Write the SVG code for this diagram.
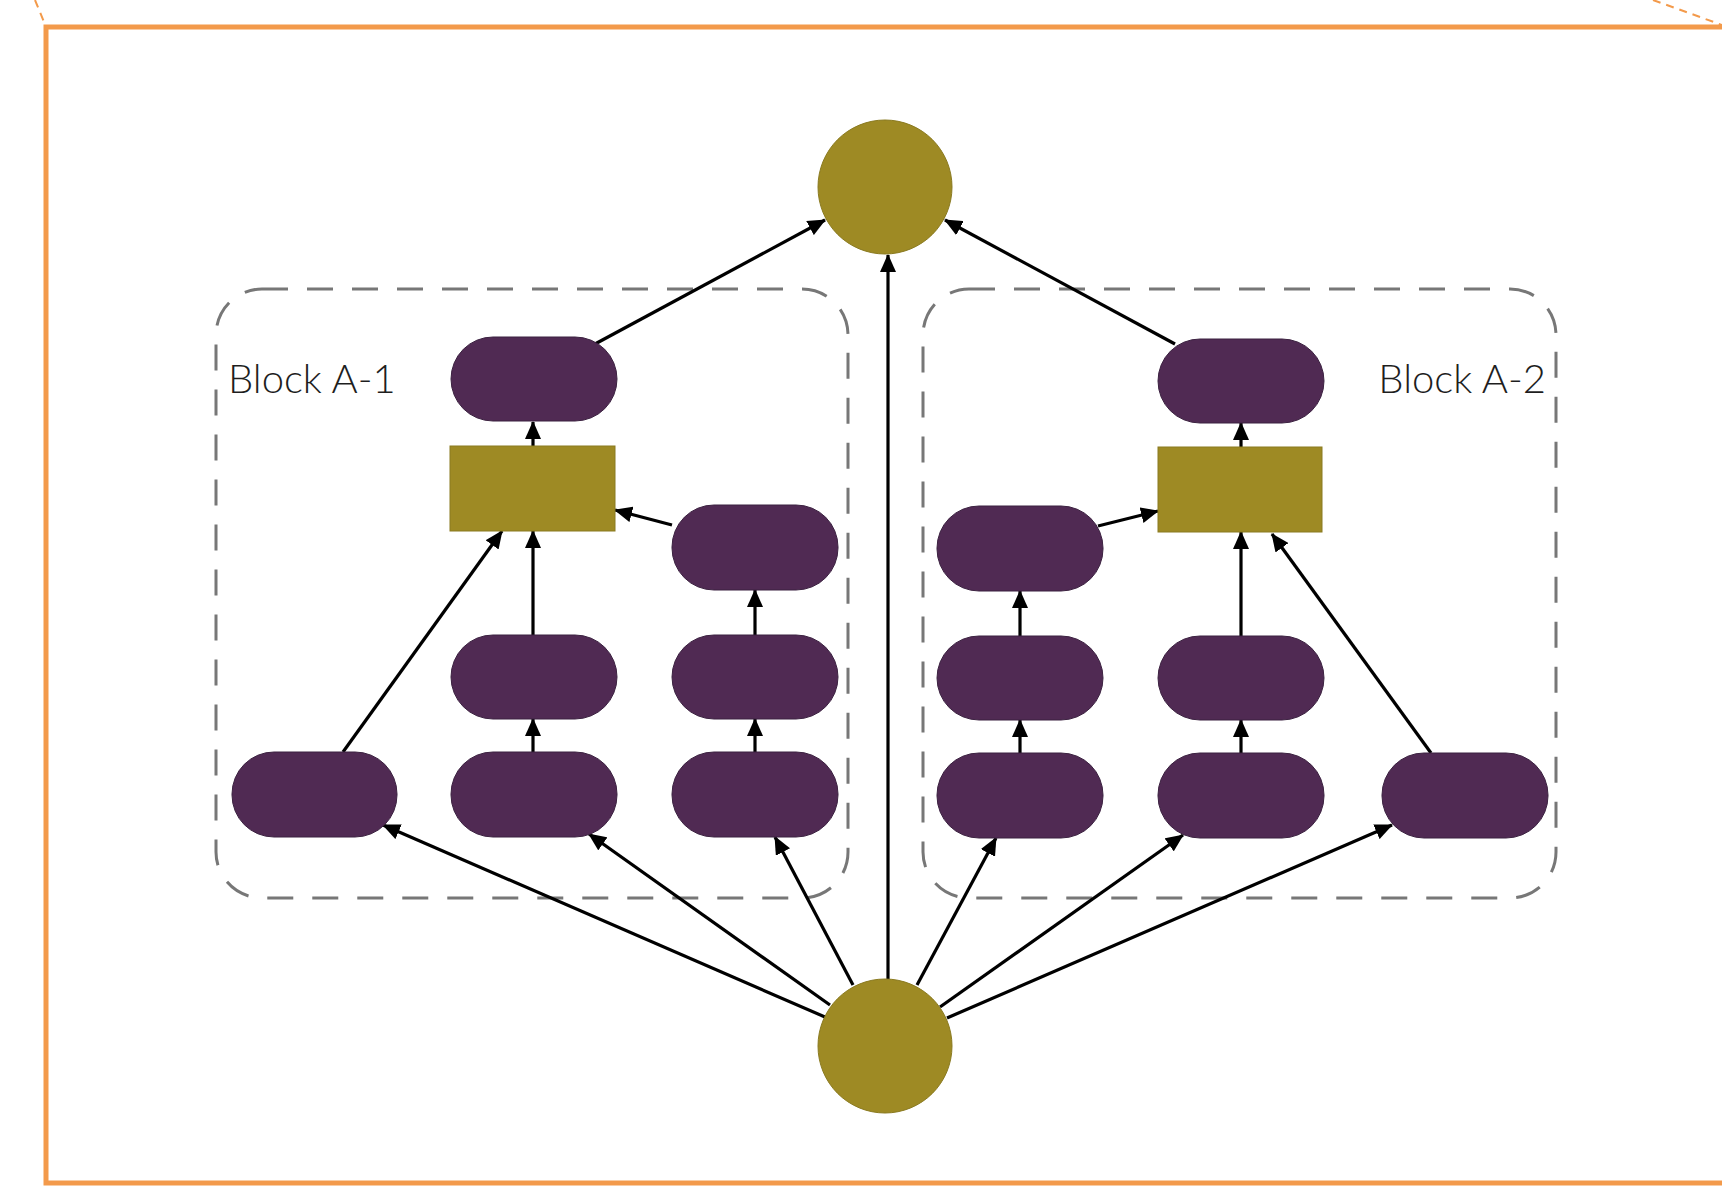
<svg xmlns="http://www.w3.org/2000/svg" width="1722" height="1186" viewBox="0 0 1722 1186">
<style>
.pill{fill:#502a53;stroke:#3b2140;stroke-width:1}
.gold{fill:#9e8a24;stroke:#8a7a20;stroke-width:1}
.grp{fill:none;stroke:#777;stroke-width:3;stroke-dasharray:26 19}
.lbl{font-family:"Lato","Open Sans","Liberation Sans",sans-serif;font-weight:300;font-size:40px;fill:#1e1e1e}
.edge{stroke:#000;stroke-width:3.2;fill:none;marker-end:url(#ah)}
.frame{fill:none;stroke:#f39a4b;stroke-width:5}
.odash{fill:none;stroke:#f39a4b;stroke-width:2;stroke-dasharray:8 6}
</style>
<defs>
<marker id="ah" markerUnits="userSpaceOnUse" markerWidth="18" markerHeight="16" refX="17" refY="8" orient="auto">
<path d="M0,0 L18,8 L0,16 z" fill="#000"/>
</marker>
</defs>
<rect width="1722" height="1186" fill="#fff"/>
<g id="frame">
<rect class="frame" x="46" y="27" width="1700" height="1156"/>
<line class="odash" x1="35" y1="0" x2="44" y2="22"/>
<line class="odash" x1="1653" y1="0" x2="1722" y2="25"/>
</g>
<g id="block-a1">
<rect class="grp" x="216" y="289" width="632" height="609" rx="46"/>
<text class="lbl" x="228" y="393">Block A-1</text>
</g>
<g id="block-a2">
<rect class="grp" x="923" y="289" width="633" height="609" rx="46"/>
<text class="lbl" x="1546" y="393" text-anchor="end">Block A-2</text>
</g>
<g id="connectors">
<line class="edge" x1="888" y1="979" x2="888" y2="255"/>
<line class="edge" x1="595" y1="344" x2="825" y2="220"/>
<line class="edge" x1="1175" y1="344" x2="945" y2="220"/>
<line class="edge" x1="533" y1="446" x2="533" y2="422"/>
<line class="edge" x1="1241" y1="447" x2="1241" y2="423"/>
<line class="edge" x1="343" y1="752" x2="502" y2="531"/>
<line class="edge" x1="533" y1="635" x2="533" y2="531"/>
<line class="edge" x1="672" y1="525" x2="615" y2="510"/>
<line class="edge" x1="755" y1="635" x2="755" y2="590"/>
<line class="edge" x1="755" y1="752" x2="755" y2="719"/>
<line class="edge" x1="533" y1="752" x2="533" y2="719"/>
<line class="edge" x1="1098" y1="526" x2="1158" y2="511"/>
<line class="edge" x1="1020" y1="636" x2="1020" y2="591"/>
<line class="edge" x1="1020" y1="753" x2="1020" y2="720"/>
<line class="edge" x1="1241" y1="636" x2="1241" y2="532"/>
<line class="edge" x1="1241" y1="753" x2="1241" y2="720"/>
<line class="edge" x1="1431" y1="753" x2="1272" y2="534"/>
<line class="edge" x1="825" y1="1017" x2="383" y2="825"/>
<line class="edge" x1="830" y1="1005" x2="589" y2="834"/>
<line class="edge" x1="853" y1="985" x2="775" y2="837"/>
<line class="edge" x1="917" y1="985" x2="996" y2="838"/>
<line class="edge" x1="940" y1="1007" x2="1183" y2="835"/>
<line class="edge" x1="947" y1="1018" x2="1392" y2="825"/>
</g>
<g id="top-circle"><circle class="gold" cx="885" cy="187" r="67"/></g>
<g id="bottom-circle"><circle class="gold" cx="885" cy="1046" r="67"/></g>
<g id="a1-top"><rect class="pill" x="451" y="337" width="166" height="84" rx="42"/></g>
<g id="a1-merge"><rect class="gold" x="450" y="446" width="165" height="85"/></g>
<g id="a1-r1"><rect class="pill" x="672" y="505" width="166" height="85" rx="42"/></g>
<g id="a1-m2"><rect class="pill" x="451" y="635" width="166" height="84" rx="42"/></g>
<g id="a1-r2"><rect class="pill" x="672" y="635" width="166" height="84" rx="42"/></g>
<g id="a1-l3"><rect class="pill" x="232" y="752" width="165" height="85" rx="42"/></g>
<g id="a1-m3"><rect class="pill" x="451" y="752" width="166" height="85" rx="42"/></g>
<g id="a1-r3"><rect class="pill" x="672" y="752" width="166" height="85" rx="42"/></g>
<g id="a2-top"><rect class="pill" x="1158" y="339" width="166" height="84" rx="42"/></g>
<g id="a2-merge"><rect class="gold" x="1158" y="447" width="164" height="85"/></g>
<g id="a2-l1"><rect class="pill" x="937" y="506" width="166" height="85" rx="42"/></g>
<g id="a2-l2"><rect class="pill" x="937" y="636" width="166" height="84" rx="42"/></g>
<g id="a2-m2"><rect class="pill" x="1158" y="636" width="166" height="84" rx="42"/></g>
<g id="a2-l3"><rect class="pill" x="937" y="753" width="166" height="85" rx="42"/></g>
<g id="a2-m3"><rect class="pill" x="1158" y="753" width="166" height="85" rx="42"/></g>
<g id="a2-r3"><rect class="pill" x="1382" y="753" width="166" height="85" rx="42"/></g>
</svg>
